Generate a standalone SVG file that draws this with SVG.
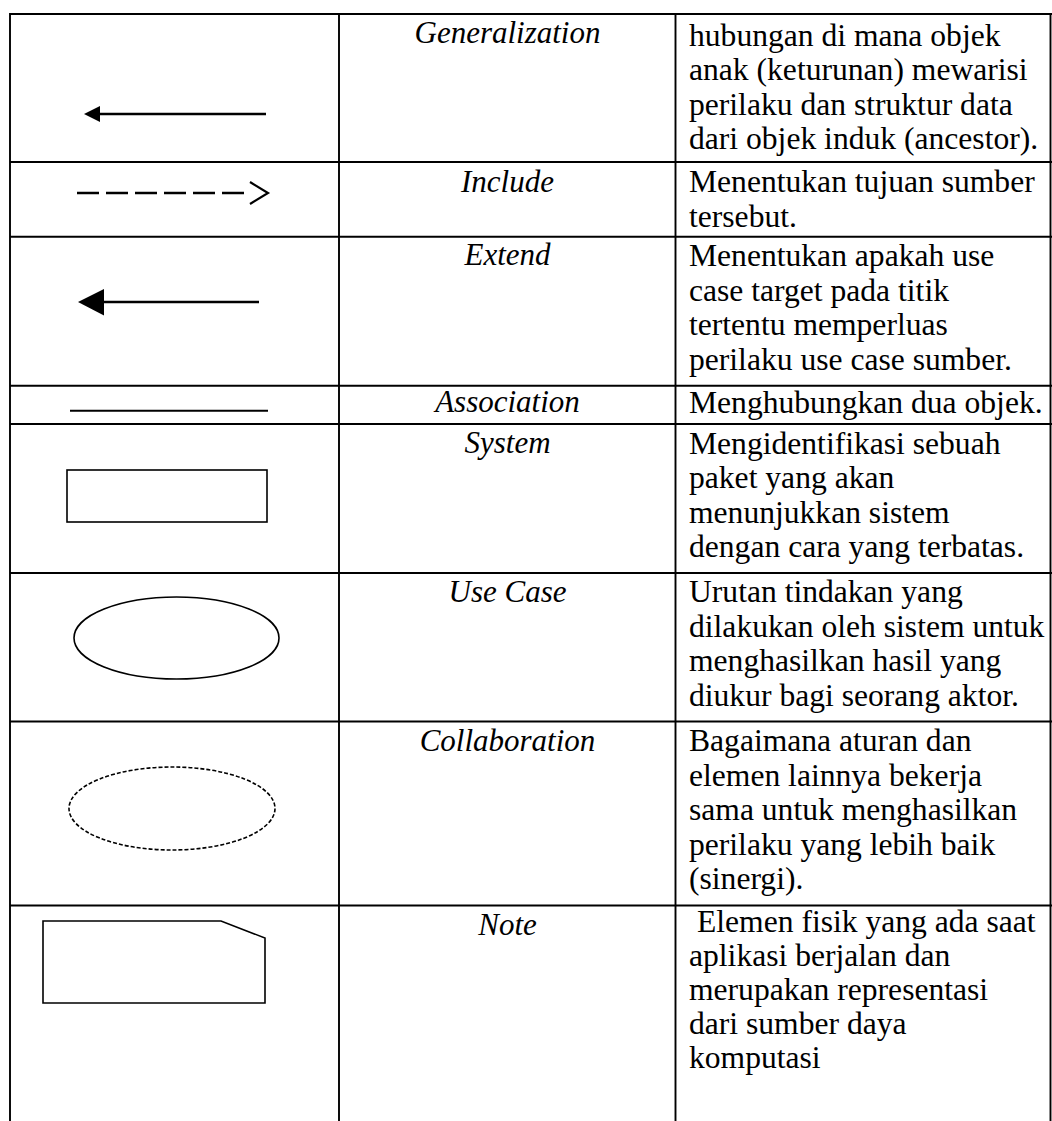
<svg xmlns="http://www.w3.org/2000/svg" width="1052" height="1121" viewBox="0 0 1052 1121">
  <style>
    .grid { stroke: #000; stroke-width: 1.9; fill: none; }
    .shape { stroke: #000; stroke-width: 1.6; fill: none; }
    .label { font-family: "Liberation Serif", "Times New Roman", serif; font-size: 31px; font-style: italic; fill: #000; text-anchor: middle; }
    .desc { font-family: "Liberation Serif", "Times New Roman", serif; font-size: 31.6px; fill: #000; }
  </style>
  <rect width="1052" height="1121" fill="#fff"/>

  <!-- table grid -->
  <g id="table">
    <line class="grid" x1="10" y1="14" x2="1052" y2="14"/>
    <line class="grid" x1="10" y1="162" x2="1052" y2="162"/>
    <line class="grid" x1="10" y1="236.7" x2="1052" y2="236.7"/>
    <line class="grid" x1="10" y1="385.7" x2="1052" y2="385.7"/>
    <line class="grid" x1="10" y1="424" x2="1052" y2="424"/>
    <line class="grid" x1="10" y1="573" x2="1052" y2="573"/>
    <line class="grid" x1="10" y1="721.5" x2="1052" y2="721.5"/>
    <line class="grid" x1="10" y1="905.5" x2="1052" y2="905.5"/>
    <line class="grid" x1="10" y1="13" x2="10" y2="1121"/>
    <line class="grid" x1="339" y1="13" x2="339" y2="1121"/>
    <line class="grid" x1="675.5" y1="13" x2="675.5" y2="1121"/>
    <line class="grid" x1="1050.5" y1="13" x2="1050.5" y2="1121"/>
  </g>

  <!-- symbols, first column -->
  <g id="connectors">
    <g id="generalization-symbol">
      <line x1="99" y1="114" x2="266" y2="114" stroke="#000" stroke-width="2.7"/>
      <path d="M84,114 L100,106 L100,122 Z" fill="#000"/>
    </g>
    <g id="include-symbol">
      <line x1="77" y1="193" x2="250" y2="193" stroke="#000" stroke-width="2.6" stroke-dasharray="22 7"/>
      <path d="M250,182 L268,193 L250,204" fill="none" stroke="#000" stroke-width="2.2"/>
    </g>
    <g id="extend-symbol">
      <line x1="102" y1="302" x2="259" y2="302" stroke="#000" stroke-width="2.4"/>
      <path d="M78,302 L104,289 L104,315.5 Z" fill="#000"/>
    </g>
    <g id="association-symbol">
      <line x1="70" y1="410.7" x2="268" y2="410.7" stroke="#000" stroke-width="2"/>
    </g>
  </g>
  <g id="system-symbol">
    <rect class="shape" x="67" y="470" width="200" height="52"/>
  </g>
  <g id="usecase-symbol">
    <ellipse class="shape" cx="176.5" cy="638" rx="102.5" ry="41"/>
  </g>
  <g id="collaboration-symbol">
    <ellipse class="shape" cx="172" cy="808.5" rx="103" ry="41.5" stroke-dasharray="4 2"/>
  </g>
  <g id="note-symbol">
    <polygon class="shape" points="43,921 221,921 265,938 265,1003 43,1003"/>
  </g>

  <!-- names, second column -->
  <g id="names">
    <text class="label" x="507.5" y="43">Generalization</text>
    <text class="label" x="507.5" y="192">Include</text>
    <text class="label" x="507.5" y="265">Extend</text>
    <text class="label" x="507.5" y="412">Association</text>
    <text class="label" x="507.5" y="453">System</text>
    <text class="label" x="507.5" y="602">Use Case</text>
    <text class="label" x="507.5" y="751">Collaboration</text>
    <text class="label" x="507.5" y="935">Note</text>
  </g>

  <!-- descriptions, third column -->
  <g id="descriptions">
    <text class="desc" x="689" y="45.5">hubungan di mana objek</text>
    <text class="desc" x="689" y="80">anak (keturunan) mewarisi</text>
    <text class="desc" x="689" y="114.5">perilaku dan struktur data</text>
    <text class="desc" x="689" y="149">dari objek induk (ancestor).</text>

    <text class="desc" x="689" y="192">Menentukan tujuan sumber</text>
    <text class="desc" x="689" y="226.5">tersebut.</text>

    <text class="desc" x="689" y="266">Menentukan apakah use</text>
    <text class="desc" x="689" y="300.5">case target pada titik</text>
    <text class="desc" x="689" y="335">tertentu memperluas</text>
    <text class="desc" x="689" y="369.5">perilaku use case sumber.</text>

    <text class="desc" x="689" y="413">Menghubungkan dua objek.</text>

    <text class="desc" x="689" y="453.5">Mengidentifikasi sebuah</text>
    <text class="desc" x="689" y="488">paket yang akan</text>
    <text class="desc" x="689" y="522.5">menunjukkan sistem</text>
    <text class="desc" x="689" y="557">dengan cara yang terbatas.</text>

    <text class="desc" x="689" y="602">Urutan tindakan yang</text>
    <text class="desc" x="689" y="636.5">dilakukan oleh sistem untuk</text>
    <text class="desc" x="689" y="671">menghasilkan hasil yang</text>
    <text class="desc" x="689" y="705.5">diukur bagi seorang aktor.</text>

    <text class="desc" x="689" y="751">Bagaimana aturan dan</text>
    <text class="desc" x="689" y="785.5">elemen lainnya bekerja</text>
    <text class="desc" x="689" y="820">sama untuk menghasilkan</text>
    <text class="desc" x="689" y="854.5">perilaku yang lebih baik</text>
    <text class="desc" x="689" y="889">(sinergi).</text>

    <text class="desc" x="697" y="932">Elemen fisik yang ada saat</text>
    <text class="desc" x="689" y="966">aplikasi berjalan dan</text>
    <text class="desc" x="689" y="1000">merupakan representasi</text>
    <text class="desc" x="689" y="1034">dari sumber daya</text>
    <text class="desc" x="689" y="1068">komputasi</text>
  </g>
</svg>
